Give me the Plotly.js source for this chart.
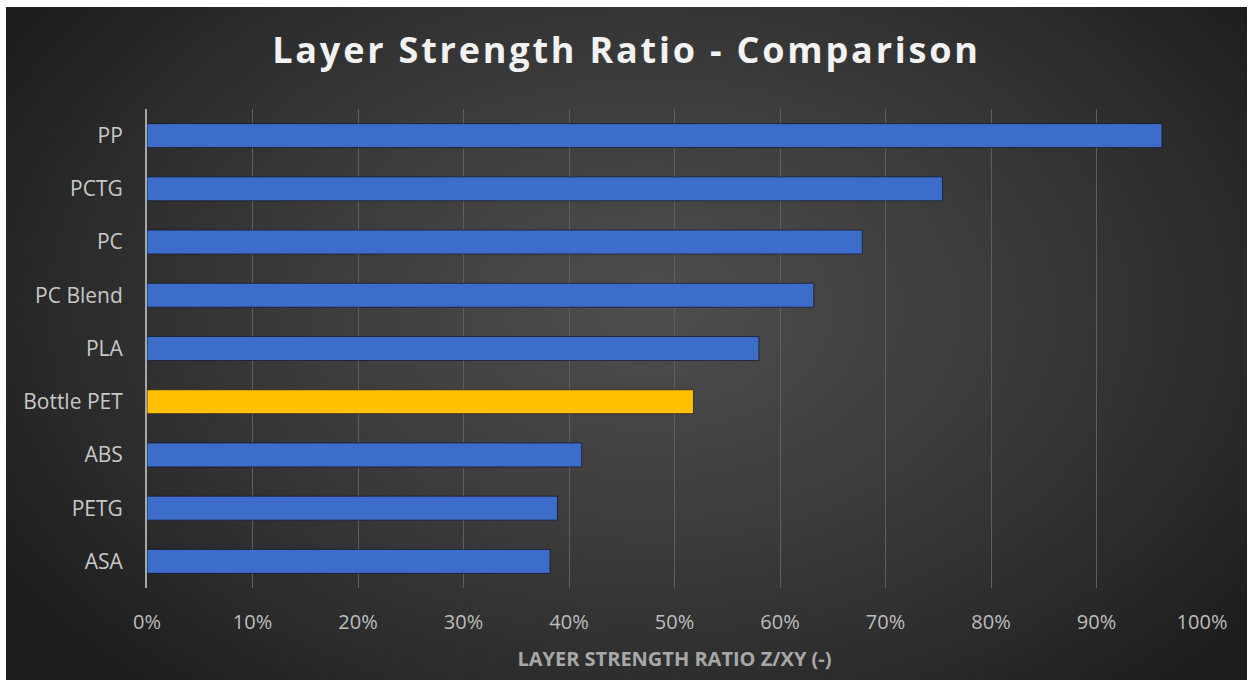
<!DOCTYPE html>
<html>
<head>
<meta charset="utf-8">
<script src="https://cdn.plot.ly/plotly-3.0.1.min.js"></script>
<style>
  html, body { margin: 0; padding: 0; background: #ffffff; }
  #wrap { position: relative; width: 1253px; height: 686px; }
  #bg { position: absolute; left: 6px; top: 7px; width: 1241px; height: 673px;
        background: radial-gradient(ellipse 60% 75% at 52% 45%, #4e4e4e 0%, #3c3c3c 45%, #2a2a2a 80%, #1e1e1e 100%); }
  #chart { position: absolute; left: 0; top: 0; width: 1253px; height: 686px; }
  .gtitle { letter-spacing: 2.8px; }
</style>
</head>
<body>
<div id="wrap"><div id="bg"></div><div id="chart"></div></div>
<script>
const materials = ["ASA", "PETG", "ABS", "Bottle PET", "PLA", "PC Blend", "PC", "PCTG", "PP"];
const ratios = [0.382, 0.389, 0.412, 0.518, 0.580, 0.632, 0.678, 0.754, 0.962];
const highlight = "Bottle PET";
const tickVals = [0, 0.1, 0.2, 0.3, 0.4, 0.5, 0.6, 0.7, 0.8, 0.9, 1.0];
const tickText = ["0%", "10%", "20%", "30%", "40%", "50%", "60%", "70%", "80%", "90%", "100%"];

const colors = materials.map(m => m === highlight ? "#ffc000" : "#3d6dca");

const trace = {
  type: "bar",
  orientation: "h",
  y: materials,
  x: ratios,
  marker: { color: colors, line: { color: "rgba(20,20,30,0.7)", width: 1 } },
  hoverinfo: "x+y"
};

const layout = {
  width: 1253, height: 686,
  paper_bgcolor: "rgba(0,0,0,0)",
  plot_bgcolor: "rgba(0,0,0,0)",
  margin: { l: 147, r: 51, t: 109, b: 98 },
  bargap: 0.55,
  showlegend: false,
  title: {
    text: "Layer Strength Ratio - Comparison",
    x: 0.5, xref: "container", xanchor: "center",
    y: 0.926, yref: "container", yanchor: "middle",
    font: { family: "Open Sans, sans-serif", size: 36, color: "#f2f2f2", weight: "bold" }
  },
  xaxis: {
    range: [0, 1.0],
    tickvals: tickVals, ticktext: tickText,
    showgrid: true, gridcolor: "#5f5f5f", gridwidth: 1,
    zeroline: false, showline: false,
    ticks: "", ticklen: 0, ticklabelstandoff: 20,
    tickfont: { family: "Open Sans, sans-serif", size: 20, color: "#bdbdbd" },
    title: {
      text: "LAYER STRENGTH RATIO Z/XY (-)",
      font: { family: "Open Sans, sans-serif", size: 20, color: "#a8a8a8", weight: "bold" },
      standoff: 17
    },
    fixedrange: true
  },
  yaxis: {
    type: "category",
    categoryorder: "array", categoryarray: materials,
    showline: true, linecolor: "#a6a6a6", linewidth: 2,
    showgrid: false, zeroline: false,
    ticks: "", ticklabelstandoff: 18,
    tickfont: { family: "Open Sans, sans-serif", size: 21, color: "#c8c8c8" },
    fixedrange: true
  },
  font: { family: "Open Sans, sans-serif", color: "#c8c8c8" }
};

Plotly.newPlot("chart", [trace], layout, { displayModeBar: false, staticPlot: true });
</script>
</body>
</html>
